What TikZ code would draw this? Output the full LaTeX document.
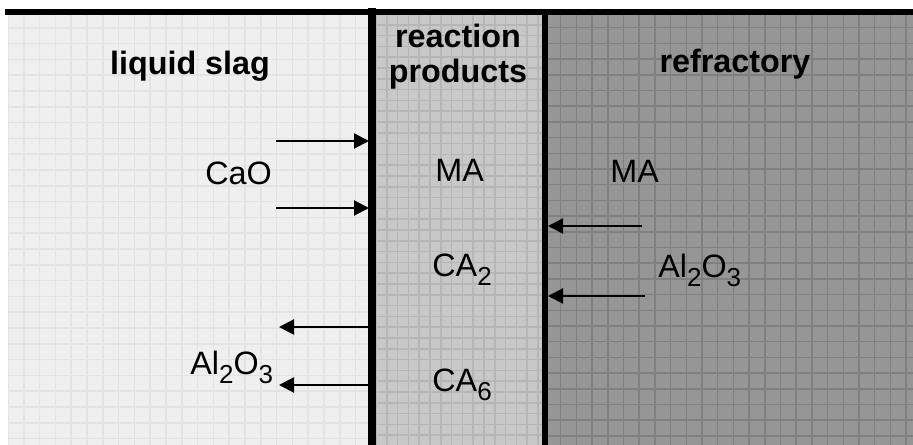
\documentclass[tikz,border=0pt]{standalone}
\usepackage{fontspec}
\setmainfont{Liberation Sans}
\usetikzlibrary{arrows.meta}
\definecolor{slag}{HTML}{EFEFEF}
\definecolor{slaggrid}{HTML}{E3E3E3}
\definecolor{product}{HTML}{C8C8C8}
\definecolor{productgrid}{HTML}{B6B6B6}
\definecolor{refrac}{HTML}{969696}
\definecolor{refracgrid}{HTML}{808080}
\newcommand{\chemsub}[1]{\raisebox{-4.6pt}{\fontsize{14.8}{15}\selectfont #1}}

\begin{document}
\begin{tikzpicture}[
    x=0.02cm, y=-0.02cm,
    title/.style={font=\fontsize{18.4}{20}\selectfont\bfseries, anchor=base, inner sep=0pt},
    species/.style={font=\fontsize{18.4}{20}\selectfont, anchor=base west, inner sep=0pt},
    gridline/.style={line width=0.85pt},
    wall/.style={draw=black, line cap=rect},
    flux/.style={-{Triangle[length=3mm,width=3mm]}, line width=1.2pt, draw=black}
  ]
  \useasboundingbox (0,0) rectangle (913,445);

  %%%%%%%%%%%%% Zones with grid %%%%%%%%%%%%%
  \begin{scope}
    \clip (8,12) rectangle (372,445);
    \fill[slag] (8,12) rectangle (372,445);
    \foreach \g in {0,...,23} \draw[gridline, slaggrid] (8+\g*15.8,12) -- (8+\g*15.8,445);
    \foreach \g in {0,...,28} \draw[gridline, slaggrid] (8,12+\g*15.8) -- (372,12+\g*15.8);
  \end{scope}
  \begin{scope}
    \clip (372,12) rectangle (545,445);
    \fill[product] (372,12) rectangle (545,445);
    \foreach \g in {0,...,16} \draw[gridline, productgrid] (376+\g*10.8,12) -- (376+\g*10.8,445);
    \foreach \g in {0,...,40} \draw[gridline, productgrid] (372,14+\g*10.8) -- (545,14+\g*10.8);
  \end{scope}
  \begin{scope}
    \clip (545,12) rectangle (913,445);
    \fill[refrac] (545,12) rectangle (913,445);
    \foreach \g in {0,...,24} \draw[gridline, refracgrid] (545+\g*15.7,12) -- (545+\g*15.7,445);
    \foreach \g in {0,...,28} \draw[gridline, refracgrid] (545,12+\g*15.7) -- (913,12+\g*15.7);
  \end{scope}

  %%%%%%%%%%%%% Walls %%%%%%%%%%%%%
  \coordinate (topL) at (8,12);
  \coordinate (topR) at (913,12);
  \coordinate (wallA) at (372,12);
  \coordinate (wallAb) at (372,445);
  \coordinate (wallB) at (545,12);
  \coordinate (wallBb) at (545,445);
  \draw[wall, line width=3.4pt] (topL) -- (topR);
  \draw[wall, line width=4pt] (wallA) -- (wallAb);
  \draw[wall, line width=3.1pt] (wallB) -- (wallBb);

  %%%%%%%%%%%%% Titles %%%%%%%%%%%%%
  \node[title] (slagtitle) at (190,75) {liquid slag};
  \node[title] (reaction) at (458,48) {reaction};
  \node[title] (products) at (458,83) {products};
  \node[title] (refractory) at (735,73) {refractory};

  %%%%%%%%%%%%% Species %%%%%%%%%%%%%
  \node[species] (cao) at (205,185) {CaO};
  \node[species] (alslag) at (190,375) {Al\chemsub{2}O\chemsub{3}};
  \node[species] (mamid) at (435,182) {MA};
  \node[species] (ca2) at (432,277) {CA\chemsub{2}};
  \node[species] (ca6) at (432,392) {CA\chemsub{6}};
  \node[species] (maref) at (610,183) {MA};
  \node[species] (alref) at (658,278) {Al\chemsub{2}O\chemsub{3}};

  %%%%%%%%%%%%% Fluxes %%%%%%%%%%%%%
  \coordinate (caoA) at (276,141);   \coordinate (caoAe) at (369,141);
  \coordinate (caoB) at (276,208);   \coordinate (caoBe) at (369,208);
  \coordinate (alA) at (369,327);    \coordinate (alAe) at (279,327);
  \coordinate (alB) at (369,385);    \coordinate (alBe) at (279,385);
  \coordinate (refA) at (642,226);   \coordinate (refAe) at (548,226);
  \coordinate (refB) at (645,296);   \coordinate (refBe) at (548,296);
  \draw[flux] (caoA) -- (caoAe);
  \draw[flux] (caoB) -- (caoBe);
  \draw[flux] (alA) -- (alAe);
  \draw[flux] (alB) -- (alBe);
  \draw[flux] (refA) -- (refAe);
  \draw[flux] (refB) -- (refBe);

\end{tikzpicture}
\end{document}
